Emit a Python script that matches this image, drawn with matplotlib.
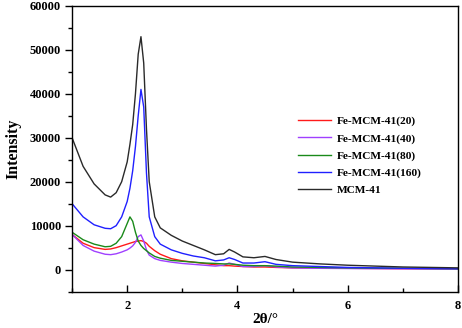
import numpy as np
import matplotlib.pyplot as plt
from matplotlib.ticker import MultipleLocator

plt.rcParams['font.family'] = ['Liberation Serif', 'DejaVu Serif']
plt.rcParams['font.weight'] = 'bold'

# Data (2theta in degrees, intensity in counts)
two_theta = [1.0, 1.2, 1.4, 1.6, 1.7, 1.8, 1.9, 2.0, 2.05, 2.1, 2.15, 2.2, 2.25, 2.3,
             2.35, 2.4, 2.5, 2.6, 2.8, 3.0, 3.2, 3.4, 3.6, 3.75, 3.85, 3.95, 4.1, 4.3,
             4.5, 4.7, 5.0, 5.5, 6.0, 7.0, 8.0]

fe20 = [8000, 6000, 5000, 4600, 4700, 5000, 5400, 5800, 6000, 6200, 6400, 6500, 6600, 6400,
        6000, 5300, 4300, 3500, 2500, 2000, 1700, 1400, 1100, 900, 900, 800, 700, 600,
        600, 500, 400, 400, 300, 200, 200]
fe40 = [8000, 5500, 4200, 3500, 3400, 3600, 4000, 4500, 4900, 5400, 6200, 7500, 7900, 6500,
        4500, 3300, 2500, 2100, 1700, 1400, 1200, 1000, 800, 1000, 1500, 1200, 700, 700,
        900, 600, 400, 300, 250, 200, 150]
fe80 = [8500, 6800, 5800, 5200, 5300, 6000, 7500, 10500, 12000, 11000, 8500, 6500, 5500, 4800,
        4300, 3800, 3000, 2600, 2100, 1900, 1700, 1500, 1400, 1300, 1300, 1200, 1000, 900,
        900, 800, 600, 500, 400, 300, 200]
fe160 = [15000, 12000, 10200, 9400, 9300, 10000, 12000, 15500, 18500, 22500, 28000, 35000, 41000, 37000,
         22000, 12000, 7500, 5800, 4500, 3700, 3100, 2700, 2000, 2200, 2700, 2300, 1500, 1500,
         1800, 1200, 900, 700, 500, 300, 200]
mcm41 = [30000, 23500, 19500, 17000, 16500, 17500, 20000, 24500, 28500, 33000, 40000, 49000, 53000, 47000,
         32000, 20000, 12000, 9500, 7800, 6500, 5500, 4500, 3400, 3600, 4600, 4000, 2900, 2700,
         3000, 2300, 1700, 1300, 1000, 600, 400]

series = [
    ('Fe-MCM-41(20)', fe20, '#ff1a1a'),
    ('Fe-MCM-41(40)', fe40, '#a040ff'),
    ('Fe-MCM-41(80)', fe80, '#1a8a1a'),
    ('Fe-MCM-41(160)', fe160, '#2020ff'),
    ('MCM-41', mcm41, '#2a2a2a'),
]

fig = plt.figure(figsize=(4.62, 3.28), dpi=100)
ax = fig.add_axes([0.156, 0.111, 0.835, 0.871])

for label, vals, color in series:
    ax.plot(two_theta, vals, color=color, lw=1.0, label=label)

ax.set_xlim(1, 8)
ax.set_ylim(-5000, 60000)
ax.xaxis.set_major_locator(MultipleLocator(2))
ax.xaxis.set_minor_locator(MultipleLocator(1))
ax.set_yticks([0, 10000, 20000, 30000, 40000, 50000, 60000])
ax.yaxis.set_minor_locator(MultipleLocator(5000))
ax.tick_params(axis='y', which='both', direction='out', labelsize=9, width=1, pad=3)
ax.tick_params(axis='x', which='both', direction='in', labelsize=9, width=1, pad=6)
ax.tick_params(which='major', length=5)
ax.tick_params(which='minor', length=3)
for s in ax.spines.values():
    s.set_linewidth(1.0)

ax.set_xlabel('2θ/°', fontsize=11, fontweight='bold', labelpad=1)
ax.set_ylabel('Intensity', fontsize=11.5, fontweight='bold', labelpad=6)

ax.legend(loc='upper left', bbox_to_anchor=(0.56, 0.65), frameon=False,
          fontsize=8.2, handlelength=2.9, labelspacing=0.62, handletextpad=0.5)

fig.savefig('out.png', dpi=100)
